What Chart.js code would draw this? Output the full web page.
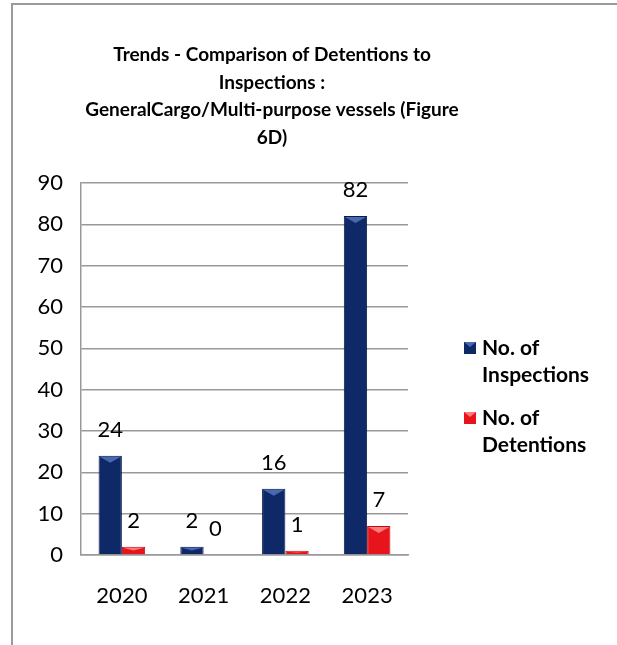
<!DOCTYPE html>
<html lang="en">
<head>
  <meta charset="UTF-8" />
  <title>Trends - Detentions vs Inspections (Figure 6D)</title>
  <script src="https://cdn.jsdelivr.net/npm/chart.js"></script>
  <style>
    html, body { margin: 0; padding: 0; background: #fff; }
    #wrap { position: relative; width: 617px; height: 645px; overflow: hidden; }
    #frame { position: absolute; left: 11px; top: 3px; width: 610px; height: 650px;
             border-left: 2px solid #9a9a9a; border-top: 2px solid #9a9a9a; }
    canvas { position: absolute; left: 0; top: 0; }
  </style>
</head>
<body>
<div id="wrap">
  <div id="frame"></div>
  <canvas id="chart" width="617" height="645"></canvas>
</div>

<script>
  // data
  const years = ['2020', '2021', '2022', '2023'];
  const inspections = [24, 2, 16, 82];
  const detentions = [2, 0, 1, 7];
  const yTicks = [0, 10, 20, 30, 40, 50, 60, 70, 80, 90];

  const titleLines = [
    'Trends - Comparison of Detentions to',
    'Inspections :',
    'GeneralCargo/Multi-purpose vessels (Figure',
    '6D)'
  ];
  const legendLines = [
    ['No. of', 'Inspections'],
    ['No. of', 'Detentions']
  ];

  const FONT = 'Lato, "Open Sans", sans-serif';
  const bevel = ['#4a68ad', '#ff7a7a'];

  // title drawn over the plot, centred a bit left of the page like the original
  const titlePlugin = {
    id: 'titleText',
    afterDraw(chart) {
      const c = chart.ctx;
      c.save();
      c.fillStyle = '#000';
      c.font = 'bold 19px ' + FONT;
      c.textAlign = 'center';
      c.textBaseline = 'middle';
      titleLines.forEach((t, i) => c.fillText(t, 272, 55 + i * 27.5));
      c.restore();
    }
  };

  // two-line legend on the right
  const legendPlugin = {
    id: 'sideLegend',
    afterDraw(chart) {
      const c = chart.ctx;
      c.save();
      c.font = 'bold 21px ' + FONT;
      c.textBaseline = 'middle';
      chart.data.datasets.forEach((ds, i) => {
        const top = 348 + i * 70;
        c.fillStyle = ds.backgroundColor;
        c.fillRect(464, top - 6, 12, 12);
        c.fillStyle = bevel[i];
        c.beginPath();
        c.moveTo(464, top - 6); c.lineTo(476, top - 6); c.lineTo(470, top - 1);
        c.fill();
        c.fillStyle = '#000';
        legendLines[i].forEach((t, j) => c.fillText(t, 482, top + j * 27));
      });
      c.restore();
    }
  };

  // bevel on bar tops + value above each bar
  const valuePlugin = {
    id: 'barValues',
    afterDatasetsDraw(chart) {
      const c = chart.ctx;
      c.save();
      chart.data.datasets.forEach((ds, i) => {
        chart.getDatasetMeta(i).data.forEach((bar) => {
          const h = bar.base - bar.y;
          if (h < 3) return;
          const half = bar.width / 2;
          const d = Math.min(7, h / 2);
          c.fillStyle = bevel[i];
          c.beginPath();
          c.moveTo(bar.x - half + 1, bar.y + 1);
          c.lineTo(bar.x + half - 1, bar.y + 1);
          c.lineTo(bar.x, bar.y + d);
          c.closePath();
          c.fill();
        });
      });
      c.font = '22px ' + FONT;
      c.fillStyle = '#000';
      c.textAlign = 'center';
      c.textBaseline = 'middle';
      chart.data.datasets.forEach((ds, i) => {
        chart.getDatasetMeta(i).data.forEach((bar, j) => {
          c.fillText(String(ds.data[j]), bar.x, bar.y - 26);
        });
      });
      c.restore();
    }
  };

  new Chart(document.getElementById('chart'), {
    type: 'bar',
    data: {
      labels: years,
      datasets: [
        { label: 'No. of Inspections', data: inspections, backgroundColor: '#0f2867',
          borderColor: '#0a1c4c', borderWidth: 1 },
        { label: 'No. of Detentions', data: detentions, backgroundColor: '#e8141c',
          borderColor: '#b80e14', borderWidth: 1 }
      ]
    },
    options: {
      responsive: false,
      animation: false,
      layout: { padding: { top: 183, right: 209, left: 0, bottom: 0 } },
      categoryPercentage: 0.57,
      barPercentage: 1.0,
      plugins: { legend: { display: false }, title: { display: false }, tooltip: { enabled: false } },
      scales: {
        x: {
          grid: { display: false },
          border: { color: '#999', width: 1.5 },
          ticks: { color: '#000', font: { family: FONT, size: 22 }, padding: 20 },
          afterFit(s) { s.height = 90; }
        },
        y: {
          min: 0, max: 90,
          afterBuildTicks(s) { s.ticks = yTicks.map(v => ({ value: v })); },
          grid: { color: '#999', lineWidth: 1.5, drawTicks: false },
          border: { color: '#999', width: 1.5 },
          ticks: { color: '#000', font: { family: FONT, size: 22 }, padding: 18 },
          afterFit(s) { s.width = 81; }
        }
      }
    },
    plugins: [titlePlugin, legendPlugin, valuePlugin]
  });
</script>
</body>
</html>
